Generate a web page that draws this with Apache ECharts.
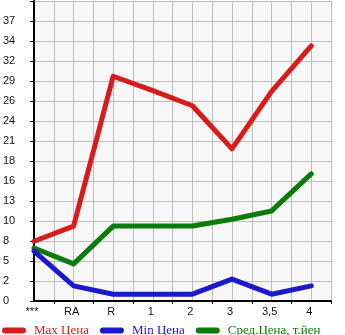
<!DOCTYPE html>
<html><head><meta charset="utf-8">
<script src="https://cdn.jsdelivr.net/npm/echarts@6/dist/echarts.min.js"></script>
<style>html,body{margin:0;padding:0;background:#fff;}#c{width:345px;height:335px;}</style>
</head><body><div id="c"></div>
<script>
var categories = ['***', 'RA', 'R', '1', '2', '3', '3,5', '4'];
var maxPrice = [7.9, 9.9, 29.7, 27.8, 25.8, 20.1, 27.7, 33.7];
var minPrice = [6.6, 2.0, 0.9, 0.9, 0.9, 2.9, 0.9, 2.0];
var avgPrice = [7.0, 4.9, 9.9, 9.9, 9.9, 10.8, 11.9, 16.8];
var yTickLabels = ['0', '2', '5', '8', '10', '13', '16', '18', '21', '24', '26', '29', '32', '34', '37'];
var seriesNames = ['Max Цена', 'Min Цена', 'Сред.Цена, т.йен'];
var seriesColors = ['#d81b1b', '#1a1acb', '#0b7b0b'];

var step = 37 / 14;
var xSlots = [];
for (var i = 0; i < categories.length * 2; i++) xSlots.push(i % 2 === 0 ? categories[i / 2] : '');
function pairs(arr) { return arr.map(function (v, i) { return [i * 2, v]; }); }
var dataSets = [maxPrice, minPrice, avgPrice];
var capsule = 'path://M3,0 L21,0 A3,3 0 0 1 21,6 L3,6 A3,3 0 0 1 3,0 Z';

var chart = echarts.init(document.getElementById('c'), null, { renderer: 'canvas' });
chart.setOption({
  animation: false,
  grid: { left: 31, right: 14, top: 1, bottom: 34, show: true, backgroundColor: '#f7f7f7', borderWidth: 0 },
  xAxis: {
    type: 'category', data: xSlots, boundaryGap: false,
    axisLine: { lineStyle: { color: '#000', width: 2 } },
    axisTick: { show: true, length: 3, interval: function (idx) { return idx % 2 === 1; }, lineStyle: { color: '#000' } },
    axisLabel: { interval: 0, margin: 5, color: '#111', fontFamily: 'Liberation Sans', fontSize: 11, padding: [0, 4, 0, 0] },
    splitLine: { show: true, interval: 0, lineStyle: { color: '#bdbdbd', width: 1 } }
  },
  yAxis: {
    type: 'value', min: 0, max: 15 * step, interval: step,
    axisLine: { show: true, lineStyle: { color: '#000', width: 2 } },
    axisTick: { show: true, length: 4, lineStyle: { color: '#000' } },
    axisLabel: {
      margin: 31, align: 'left', verticalAlign: 'middle', padding: [0, 0, 9, 0],
      color: '#111', fontFamily: 'Liberation Sans', fontSize: 11,
      formatter: function (v) { var k = Math.round(v / step); return k < yTickLabels.length ? yTickLabels[k] : ''; }
    },
    splitLine: { show: true, lineStyle: { color: '#bdbdbd', width: 1 } }
  },
  legend: {
    left: -3, top: 319, itemWidth: 24, itemHeight: 6, itemGap: 11, icon: capsule,
    textStyle: { fontFamily: 'Liberation Serif', fontSize: 13, padding: [0, 0, 0, 3] },
    data: seriesNames.map(function (n, i) { return { name: n, itemStyle: { color: seriesColors[i] }, textStyle: { color: seriesColors[i] } }; })
  },
  series: seriesNames.map(function (n, i) {
    return {
      name: n, type: 'line', data: pairs(dataSets[i]), showSymbol: false, symbol: 'none',
      lineStyle: { color: seriesColors[i], width: 5, cap: 'round', join: 'round' },
      itemStyle: { color: seriesColors[i] }, z: 3 - i
    };
  })
});
</script></body></html>
